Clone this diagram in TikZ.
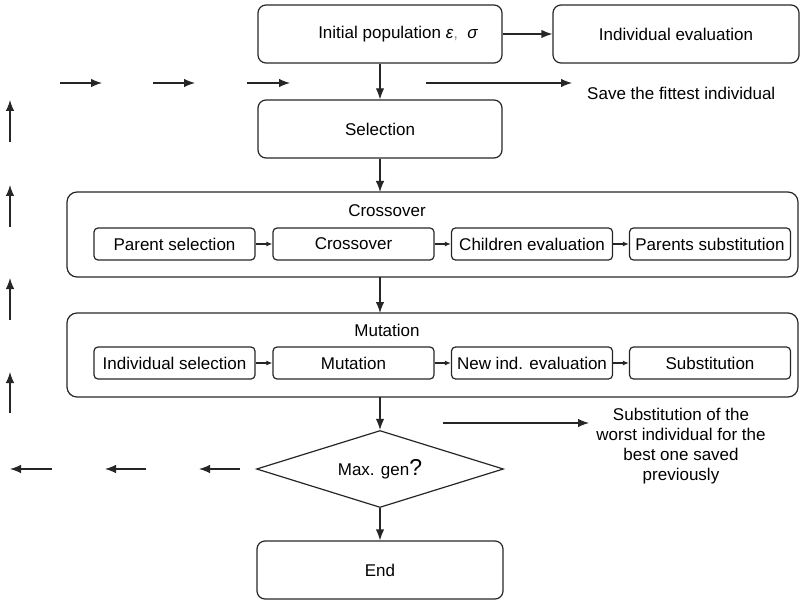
\documentclass[tikz,border=0pt]{standalone}
\usepackage{fontspec}
\setmainfont{Liberation Sans}
\usetikzlibrary{arrows.meta,shapes.geometric}
\begin{document}
\begin{tikzpicture}[x=1pt,y=-1pt,
  every node/.style={font=\fontsize{17}{20}\selectfont},
  line/.style={line width=1.2pt,draw=black!85},
  bigbox/.style={line, draw, rounded corners=8pt, minimum width=244pt, minimum height=58pt, inner sep=0pt},
  group/.style={line, draw, rounded corners=10pt},
  smallbox/.style={line, draw, rounded corners=4pt, minimum width=161pt, minimum height=32pt, inner sep=0pt},
  flow/.style={line, -{Latex[length=11pt,width=8.5pt]}},
  tiny/.style={line, -{Latex[length=6pt,width=5pt]}},
  cond/.style={line, draw, diamond, shape aspect=3.2, minimum width=247pt, minimum height=77pt, inner sep=0pt}
]
\useasboundingbox (0,0) rectangle (802,601);

% top row
\node[bigbox] (init) at (380,34) {};
\node at (398,34) {Initial population {\itshape ε}{\color{black!40},}\ \ {\itshape σ}};
\node[bigbox, minimum width=246pt] (ieval) at (676,34) {Individual evaluation};
\draw[flow] (init.east) -- (ieval.west);

\node[bigbox] (sel) at (380,129) {Selection};
\draw[flow] (init.south) -- (sel.north);

% crossover group
\draw[group] (67,192) rectangle (798,277);
\coordinate (cxtop) at (380,192);
\coordinate (cxbot) at (380,277);
\node at (387,211) {Crossover};
\node[smallbox] (ps) at (174.5,244) {Parent selection};
\node[smallbox] (cx) at (353.5,244) {Crossover};
\node[smallbox] (ce) at (532,244) {Children evaluation};
\node[smallbox] (pst) at (710,244) {Parents substitution};
\draw[tiny] (ps.east) -- (cx.west);
\draw[tiny] (cx.east) -- (ce.west);
\draw[tiny] (ce.east) -- (pst.west);
\draw[flow] (sel.south) -- (cxtop);

% mutation group
\draw[group] (67,313) rectangle (798,397);
\coordinate (mttop) at (380,313);
\coordinate (mtbot) at (380,397);
\node at (387,330) {Mutation};
\node[smallbox] (is) at (174.5,363) {Individual selection};
\node[smallbox] (mt) at (353.5,363) {Mutation};
\node[smallbox] (ne) at (532,363) {New ind. evaluation};
\node[smallbox] (sb) at (710,363) {Substitution};
\draw[tiny] (is.east) -- (mt.west);
\draw[tiny] (mt.east) -- (ne.west);
\draw[tiny] (ne.east) -- (sb.west);
\draw[flow] (cxbot) -- (mttop);

% decision and end
\node[cond] (mg) at (380,469) {Max. gen{\fontsize{23}{23}\selectfont ?}};
\draw[flow] (mtbot) -- (mg.north);
\node[bigbox, minimum width=246pt] (end) at (380,570) {End};
\draw[flow] (mg.south) -- (end.north);

% notes
\coordinate (sa) at (426,83);
\coordinate (sb2) at (572,83);
\draw[flow] (sa) -- (sb2);
\node[anchor=west, inner sep=0pt] (savenote) at (587,93) {Save the fittest individual};

\coordinate (ra) at (443,423);
\coordinate (rb) at (589,423);
\draw[flow] (ra) -- (rb);
\node[align=center, inner sep=0pt, font=\fontsize{17}{20}\selectfont] (subnote) at (681,446)
  {Substitution of the\\worst individual for the\\best one saved\\previously};

% broken return loop
\foreach \a/\b [count=\i] in {240/199,146/105,52/10}{
  \coordinate (bl\i) at (\a,469);
  \coordinate (br\i) at (\b,469);
  \draw[flow] (bl\i) -- (br\i);
}
\foreach \a/\b [count=\i] in {413/372,320/278,227/185,142/100}{
  \coordinate (ul\i) at (10,\a);
  \coordinate (uh\i) at (10,\b);
  \draw[flow] (ul\i) -- (uh\i);
}
\foreach \a/\b [count=\i] in {60/102,153/195,247/290}{
  \coordinate (tl\i) at (\a,83);
  \coordinate (tr\i) at (\b,83);
  \draw[flow] (tl\i) -- (tr\i);
}
\end{tikzpicture}
\end{document}
